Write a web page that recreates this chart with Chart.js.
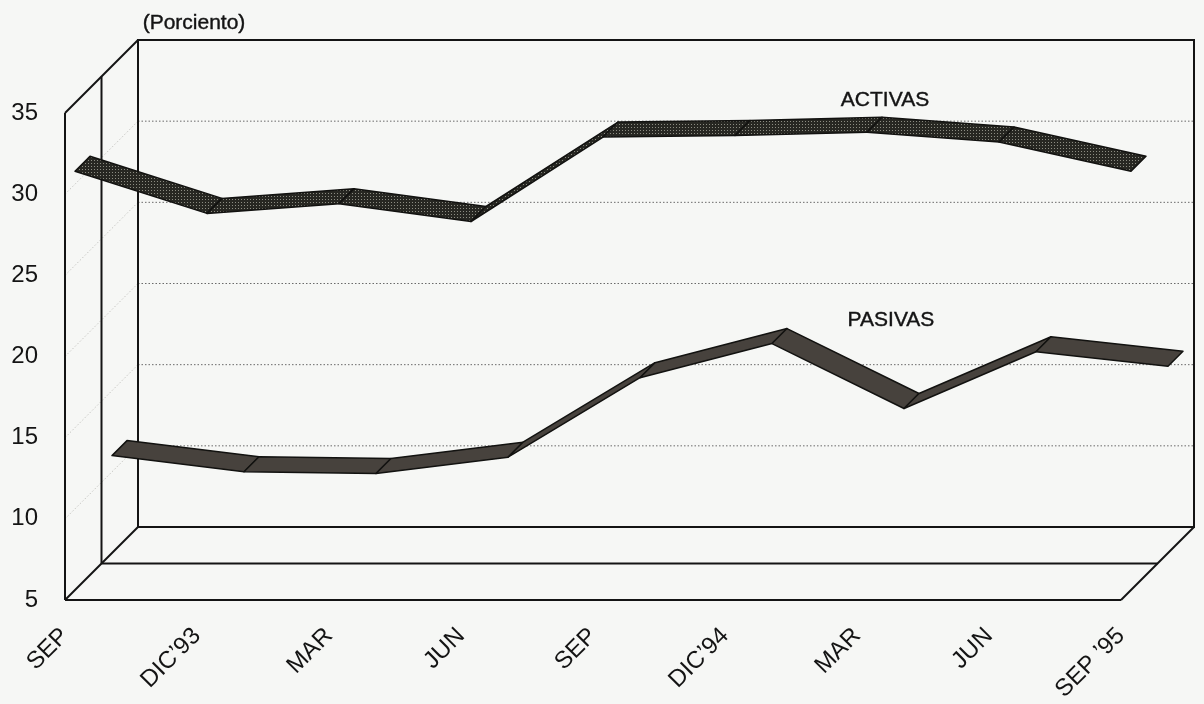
<!DOCTYPE html>
<html>
<head>
<meta charset="utf-8">
<script src="https://cdn.jsdelivr.net/npm/chart.js@4"></script>
<style>
  html, body { margin: 0; padding: 0; background: #f6f7f5; }
  canvas { display: block; }
</style>
</head>
<body>
<canvas id="grafico" width="1204" height="704"></canvas>
<script>
const categorias = ["SEP", "DIC\u201993", "MAR", "JUN", "SEP", "DIC\u201994", "MAR", "JUN", "SEP \u201995"];
const activas = [30.8, 28.2, 28.8, 27.7, 32.9, 33.0, 33.2, 32.6, 30.8];
const pasivas = [11.0, 10.0, 9.9, 10.9, 15.8, 17.9, 13.9, 17.4, 16.5];
const ticksY = [5, 10, 15, 20, 25, 30, 35];

const FONDO = "#f6f7f5";
const TINTA = "#141414";
const PROF = 73; // profundidad del cubo en px

function patronPunteado(ctx) {
    const c = document.createElement("canvas");
    c.width = 3;
    c.height = 3;
    const g = c.getContext("2d");
    g.fillStyle = "#272722";
    g.fillRect(0, 0, 3, 3);
    g.fillStyle = "#8c8c82";
    g.fillRect(1, 1, 1, 1);
    return ctx.createPattern(c, "repeat");
}

function linea(ctx, x1, y1, x2, y2) {
    ctx.beginPath();
    ctx.moveTo(x1, y1);
    ctx.lineTo(x2, y2);
    ctx.stroke();
}

const cubo3d = {
    id: "cubo3d",
    beforeDraw(chart) {
        const ctx = chart.ctx;
        ctx.save();
        ctx.fillStyle = FONDO;
        ctx.fillRect(0, 0, chart.width, chart.height);
        ctx.restore();
    },
    beforeDatasetsDraw(chart) {
        const ctx = chart.ctx;
        const x = chart.scales.x, y = chart.scales.y;
        const L = x.getPixelForValue(0);
        const R = x.getPixelForValue(categorias.length - 1);
        const B = y.getPixelForValue(ticksY[0]);
        const T = y.getPixelForValue(ticksY[ticksY.length - 1]);
        const h = PROF / 2;

        ctx.save();
        // rejilla punteada en la pared del fondo
        ctx.strokeStyle = "#6a6a6a";
        ctx.lineWidth = 1;
        ctx.setLineDash([1.5, 2]);
        ticksY.slice(1, -1).forEach(v => {
            const py = y.getPixelForValue(v) - PROF;
            linea(ctx, L + PROF, py, R + PROF, py);
        });
        // diagonales tenues en la pared lateral
        ctx.strokeStyle = "#c8c8c4";
        ticksY.slice(1, -1).forEach(v => {
            const py = y.getPixelForValue(v);
            linea(ctx, L, py, L + PROF, py - PROF);
        });
        ctx.setLineDash([]);

        ctx.strokeStyle = TINTA;
        ctx.lineWidth = 2;
        // frente
        linea(ctx, L, T, L, B);
        linea(ctx, L, B, R, B);
        linea(ctx, R, B, R + PROF, B - PROF);
        linea(ctx, L, T, L + PROF, T - PROF);
        linea(ctx, L, B, L + PROF, B - PROF);
        // plano medio
        linea(ctx, L + h, T - h, L + h, B - h);
        linea(ctx, L + h, B - h, R + h, B - h);
        // fondo
        ctx.strokeRect(L + PROF, T - PROF, R - L, B - T);
        ctx.restore();
    },
    afterDatasetsDraw(chart) {
        const ctx = chart.ctx;
        const x = chart.scales.x, y = chart.scales.y;

        function cinta(valores, d0, d1, relleno) {
            ctx.save();
            ctx.fillStyle = relleno;
            ctx.strokeStyle = "#121210";
            ctx.lineWidth = 1.5;
            ctx.lineJoin = "round";
            for (let i = 0; i < valores.length - 1; i++) {
                const xa = x.getPixelForValue(i), xb = x.getPixelForValue(i + 1);
                const ya = y.getPixelForValue(valores[i]), yb = y.getPixelForValue(valores[i + 1]);
                ctx.beginPath();
                ctx.moveTo(xa + d0, ya - d0);
                ctx.lineTo(xb + d0, yb - d0);
                ctx.lineTo(xb + d1, yb - d1);
                ctx.lineTo(xa + d1, ya - d1);
                ctx.closePath();
                ctx.fill();
                ctx.stroke();
            }
            ctx.restore();
        }

        cinta(pasivas, 47, 62, "#47423d");
        cinta(activas, 10, 25, patronPunteado(ctx));

        ctx.save();
        ctx.fillStyle = TINTA;
        ctx.strokeStyle = TINTA;
        ctx.lineWidth = 0.4;
        ctx.textAlign = "center";
        ctx.textBaseline = "middle";
        ctx.font = "21px 'Liberation Sans', Arial, sans-serif";
        ctx.fillText("(Porciento)", 194, 23);
        ctx.strokeText("(Porciento)", 194, 23);
        ctx.fillText("ACTIVAS", 885, 100);
        ctx.strokeText("ACTIVAS", 885, 100);
        ctx.fillText("PASIVAS", 891, 320);
        ctx.strokeText("PASIVAS", 891, 320);
        ctx.restore();
    }
};

const ctx = document.getElementById("grafico").getContext("2d");
new Chart(ctx, {
    type: "line",
    data: {
        labels: categorias,
        datasets: [
            { label: "ACTIVAS", data: activas, showLine: false, pointRadius: 0, borderWidth: 0 },
            { label: "PASIVAS", data: pasivas, showLine: false, pointRadius: 0, borderWidth: 0 }
        ]
    },
    options: {
        responsive: false,
        animation: false,
        events: [],
        layout: { padding: { top: 113, right: 83, left: 0, bottom: 0 } },
        plugins: {
            legend: { display: false },
            tooltip: { enabled: false }
        },
        scales: {
            x: {
                offset: false,
                grid: { display: false, drawTicks: false },
                border: { display: false },
                ticks: {
                    autoSkip: false,
                    maxRotation: 45,
                    minRotation: 45,
                    padding: 22,
                    color: TINTA,
                    font: { family: "'Liberation Sans', Arial, sans-serif", size: 24 }
                },
                afterFit: s => { s.height = 104; }
            },
            y: {
                min: 5,
                max: 35,
                grid: { display: false, drawTicks: false },
                border: { display: false },
                afterBuildTicks: s => { s.ticks = ticksY.map(v => ({ value: v })); },
                ticks: {
                    padding: 27,
                    color: TINTA,
                    font: { family: "'Liberation Sans', Arial, sans-serif", size: 24 }
                },
                afterFit: s => { s.width = 65; }
            }
        }
    },
    plugins: [cubo3d]
});
</script>
</body>
</html>
